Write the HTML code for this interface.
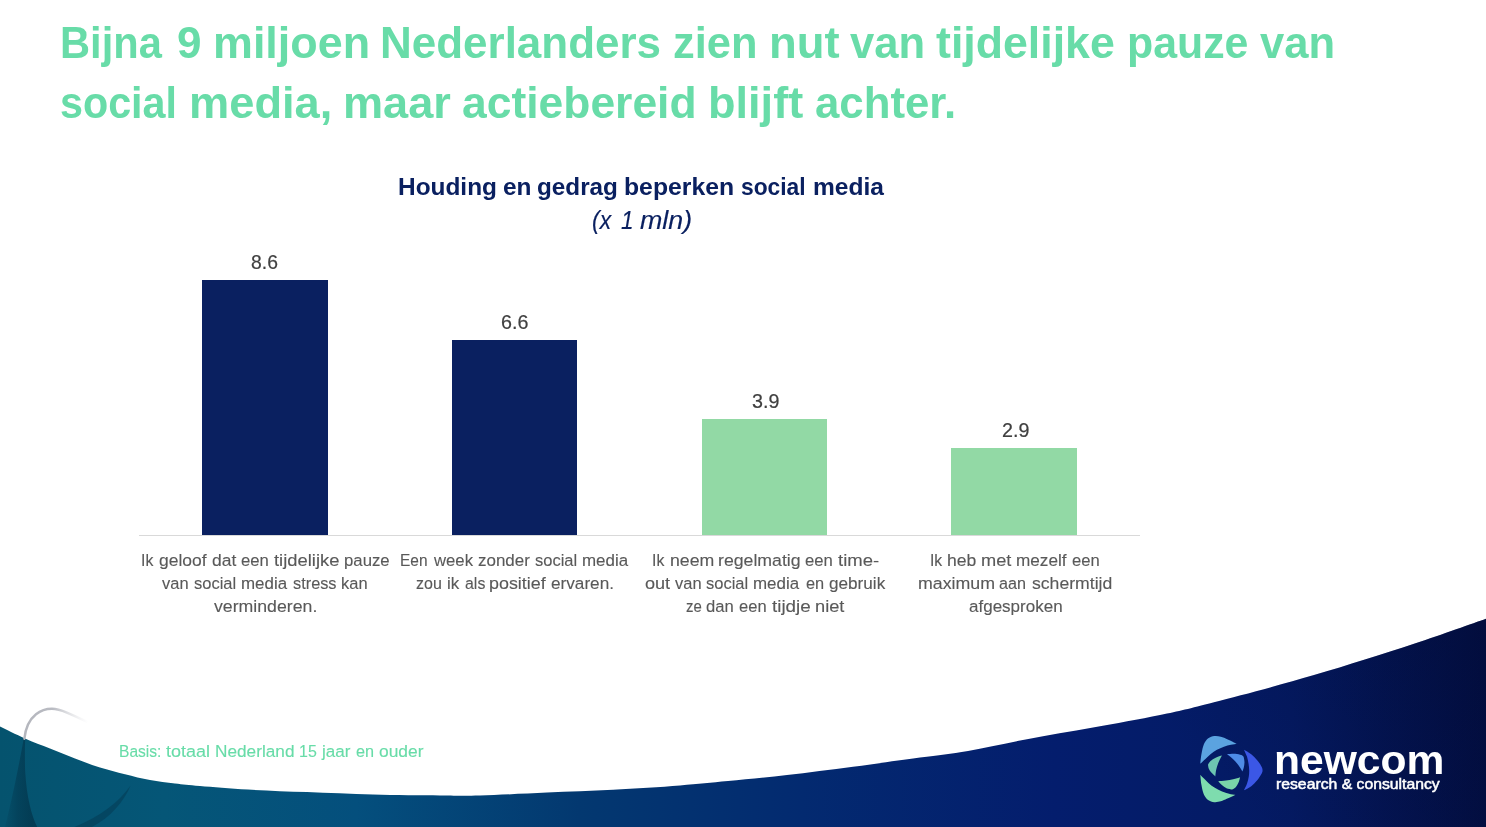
<!DOCTYPE html>
<html lang="nl">
<head>
<meta charset="utf-8">
<title>Houding en gedrag beperken social media</title>
<style>
html,body{margin:0;padding:0;background:#fff}
body{width:1486px;height:827px;position:relative;overflow:hidden;font-family:"Liberation Sans", sans-serif;}
.slide{position:absolute;left:0;top:0;width:1486px;height:827px;overflow:hidden;background:#fff}
.gfx{position:absolute;left:0;top:0;display:block}
h1,h2,p,ul,li,figure,figcaption,footer{margin:0;padding:0;font-weight:normal;font-size:0;list-style:none}
.ln{position:absolute;display:block;white-space:nowrap;line-height:1;transform-origin:0 0;}
.ln span{display:inline-block;transform-origin:0 0;}
.title .ln{font-weight:bold;color:#68dca8}
.ctitle .ln{font-weight:bold;color:#0a2060}
.csub .ln{font-style:italic;color:#0a2060;-webkit-text-stroke:0.15px #0a2060}
.val .ln{color:#404040;-webkit-text-stroke:0.2px #404040}
.cat .ln{color:#595959;-webkit-text-stroke:0.12px #595959}
.basis .ln{color:#68dca8;-webkit-text-stroke:0.12px #68dca8}
.logo .ln{color:#fff}
.logo .nm{font-weight:bold}
.logo .tg{-webkit-text-stroke:0.5px #fff}
</style>
</head>
<body>
<div class="slide">
<svg class="gfx" width="1486" height="827" viewBox="0 0 1486 827" aria-hidden="true">
<defs>
<linearGradient id="wg" x1="0" y1="0" x2="1486" y2="0" gradientUnits="userSpaceOnUse">
<stop offset="0" stop-color="#05536e"/>
<stop offset="0.11" stop-color="#055677"/>
<stop offset="0.24" stop-color="#044f7d"/>
<stop offset="0.39" stop-color="#033870"/>
<stop offset="0.54" stop-color="#032a70"/>
<stop offset="0.71" stop-color="#041d6d"/>
<stop offset="0.87" stop-color="#041a63"/>
<stop offset="1" stop-color="#030f45"/>
</linearGradient>
<linearGradient id="wd" x1="1250" y1="827" x2="1486" y2="640" gradientUnits="userSpaceOnUse">
<stop offset="0" stop-color="#010a30" stop-opacity="0"/>
<stop offset="1" stop-color="#010a30" stop-opacity="0.35"/>
</linearGradient>
<linearGradient id="sw" x1="24" y1="0" x2="88" y2="0" gradientUnits="userSpaceOnUse">
<stop offset="0" stop-color="#b4b6bd"/>
<stop offset="0.45" stop-color="#b9bbc2"/>
<stop offset="1" stop-color="#d8d9dd" stop-opacity="0"/>
</linearGradient>
<linearGradient id="sh1" x1="4" y1="0" x2="32" y2="0" gradientUnits="userSpaceOnUse">
<stop offset="0" stop-color="#03384f" stop-opacity="0.1"/>
<stop offset="0.5" stop-color="#03384f" stop-opacity="0.6"/>
<stop offset="1" stop-color="#03384f" stop-opacity="0.85"/>
</linearGradient>
</defs>
<path d="M-2 725.4C-1.7 725.6 -4.5 724.2 0 726.4C4.5 728.6 16.7 734.7 25 738.4C33.3 742.1 41.7 745.1 50 748.4C58.3 751.7 66.7 755.2 75 758.4C83.3 761.6 91.7 765.0 100 767.6C108.3 770.2 116.7 772.2 125 774.3C133.3 776.4 141.7 778.6 150 780.1C158.3 781.6 166.7 782.5 175 783.5C183.3 784.5 187.8 785.0 200 786C212.2 787.0 230.2 788.6 248 789.6C265.8 790.6 286.2 791.3 307 792.1C327.8 792.9 350.8 794.0 373 794.6C395.2 795.2 422.2 795.4 440 795.5C457.8 795.6 462.2 796.0 480 795.5C497.8 795.0 524.8 793.6 547 792.6C569.2 791.6 590.8 791.0 613 789.8C635.2 788.6 660.8 787.0 680 785.5C699.2 784.0 710.2 782.8 728 781.1C745.8 779.4 766.2 777.5 787 775.1C807.8 772.7 830.8 769.7 853 766.8C875.2 763.9 900.8 760.2 920 757.6C939.2 755.0 950.2 754.0 968 750.9C985.8 747.8 1006.2 743.1 1027 739.2C1047.8 735.3 1070.8 731.6 1093 727.6C1115.2 723.6 1139.8 719.2 1160 715C1180.2 710.8 1188.3 708.9 1214 702.2C1239.7 695.6 1280.7 684.8 1314 675.1C1347.3 665.4 1385.3 653.2 1414 643.8C1442.7 634.4 1473.7 623.1 1486 618.8C1498.3 614.5 1487.7 618.2 1488 618.1V828H-2Z" fill="url(#wg)"/>
<path d="M-2 725.4C-1.7 725.6 -4.5 724.2 0 726.4C4.5 728.6 16.7 734.7 25 738.4C33.3 742.1 41.7 745.1 50 748.4C58.3 751.7 66.7 755.2 75 758.4C83.3 761.6 91.7 765.0 100 767.6C108.3 770.2 116.7 772.2 125 774.3C133.3 776.4 141.7 778.6 150 780.1C158.3 781.6 166.7 782.5 175 783.5C183.3 784.5 187.8 785.0 200 786C212.2 787.0 230.2 788.6 248 789.6C265.8 790.6 286.2 791.3 307 792.1C327.8 792.9 350.8 794.0 373 794.6C395.2 795.2 422.2 795.4 440 795.5C457.8 795.6 462.2 796.0 480 795.5C497.8 795.0 524.8 793.6 547 792.6C569.2 791.6 590.8 791.0 613 789.8C635.2 788.6 660.8 787.0 680 785.5C699.2 784.0 710.2 782.8 728 781.1C745.8 779.4 766.2 777.5 787 775.1C807.8 772.7 830.8 769.7 853 766.8C875.2 763.9 900.8 760.2 920 757.6C939.2 755.0 950.2 754.0 968 750.9C985.8 747.8 1006.2 743.1 1027 739.2C1047.8 735.3 1070.8 731.6 1093 727.6C1115.2 723.6 1139.8 719.2 1160 715C1180.2 710.8 1188.3 708.9 1214 702.2C1239.7 695.6 1280.7 684.8 1314 675.1C1347.3 665.4 1385.3 653.2 1414 643.8C1442.7 634.4 1473.7 623.1 1486 618.8C1498.3 614.5 1487.7 618.2 1488 618.1V828H-2Z" fill="url(#wd)"/>
<path d="M23.6 739C20 760 12 800 4.7 828H37.7C31.5 816 26.7 797 25.2 772C24.7 760 24.8 748 25.2 739.6Z" fill="url(#sh1)"/>
<path d="M130.5 785.8C118 803 100 817 72 828H90C110 818 123 803 130.5 785.8Z" fill="#03384f" opacity="0.5"/>
<path d="M24.4 738.7C25.5 728 29.5 719.5 36 714.3C41 710.3 46.5 708.8 51.9 708.8C61 709 72 714.5 90 723.2" fill="none" stroke="url(#sw)" stroke-width="2.4" stroke-linecap="round"/>
<rect x="139" y="535" width="1001" height="1" fill="#d9d9d9"/>
<rect x="202" y="280" width="126" height="255" fill="#0a2060"/>
<rect x="452" y="340" width="125" height="195" fill="#0a2060"/>
<rect x="702" y="419" width="125" height="116" fill="#92d9a5"/>
<rect x="951" y="448" width="126" height="87" fill="#92d9a5"/>
<g transform="translate(1190 725)">
<path d="M10.28 38.75C10.48 37.08 10.89 32.05 11.51 28.78C12.13 25.51 12.85 21.69 13.98 19.12C15.11 16.55 16.58 14.70 18.29 13.36C20.01 12.02 22.17 11.37 24.25 11.10C26.34 10.83 28.67 11.20 30.83 11.72C32.99 12.23 35.23 13.34 37.20 14.18C39.17 15.02 41.04 15.93 42.65 16.75C44.26 17.57 46.16 18.72 46.87 19.12C45.87 19.24 43.06 19.41 40.90 19.84C38.75 20.26 36.25 20.86 33.92 21.69C31.59 22.51 29.12 23.57 26.93 24.77C24.73 25.97 22.68 27.36 20.76 28.88C18.84 30.40 17.16 32.27 15.42 33.92C13.67 35.56 11.13 37.94 10.28 38.75Z" fill="#5ba3e0"/>
<path d="M10.28 49.64C10.47 51.34 10.83 56.54 11.41 59.82C11.99 63.09 12.66 66.74 13.77 69.27C14.89 71.81 16.34 73.71 18.09 75.03C19.84 76.34 22.13 76.96 24.25 77.18C26.38 77.41 28.74 76.93 30.83 76.36C32.92 75.80 35.01 74.55 36.79 73.79C38.57 73.04 40.10 72.51 41.52 71.84C42.94 71.17 44.69 70.13 45.32 69.78C44.28 69.60 41.26 69.22 39.05 68.65C36.84 68.09 34.43 67.37 32.07 66.39C29.70 65.42 27.10 64.17 24.87 62.80C22.64 61.43 20.52 59.71 18.71 58.17C16.89 56.63 15.38 54.97 13.98 53.55C12.57 52.12 10.89 50.29 10.28 49.64Z" fill="#7edcae"/>
<path d="M53.96 24.67C55.17 25.42 59.01 27.39 61.25 29.19C63.50 30.99 65.72 33.42 67.42 35.46C69.12 37.50 70.57 39.79 71.43 41.42C72.29 43.05 72.56 43.95 72.56 45.22C72.56 46.49 72.29 47.40 71.43 49.02C70.57 50.65 69.12 52.95 67.42 54.98C65.72 57.02 63.50 59.52 61.25 61.25C59.01 62.98 55.17 64.68 53.96 65.36C54.47 64.23 56.24 60.91 57.04 58.58C57.85 56.25 58.43 53.61 58.79 51.39C59.15 49.16 59.23 47.28 59.20 45.22C59.16 43.17 58.94 41.28 58.58 39.05C58.22 36.83 57.81 34.26 57.04 31.86C56.27 29.46 54.47 25.87 53.96 24.67Z" fill="#3b57e6"/>
<path d="M17.99 39.67C18.41 39.05 19.27 37.14 20.55 35.97C21.84 34.81 23.79 33.59 25.69 32.68C27.60 31.77 30.92 30.88 31.96 30.52C31.35 31.77 29.22 35.66 28.26 38.03C27.30 40.39 26.70 42.48 26.21 44.71C25.71 46.93 25.44 50.27 25.28 51.39C24.58 50.70 22.15 48.56 21.07 47.28C19.99 45.99 19.32 44.95 18.81 43.68C18.29 42.41 18.12 40.34 17.99 39.67Z" fill="#6cc5b1"/>
<path d="M37.00 29.09C38.37 29.02 42.82 28.50 45.22 28.67C47.62 28.85 49.98 29.58 51.39 30.11C52.79 30.64 53.27 31.57 53.65 31.86C53.79 32.72 54.44 35.29 54.47 37.00C54.50 38.71 54.20 40.56 53.85 42.14C53.51 43.71 52.66 45.73 52.42 46.45C51.73 45.39 49.85 42.12 48.30 40.08C46.76 38.04 45.05 36.06 43.17 34.22C41.28 32.39 38.03 29.94 37.00 29.09Z" fill="#4e8ce6"/>
<path d="M28.26 56.32C29.55 56.20 33.49 55.94 35.97 55.60C38.45 55.26 40.80 54.83 43.17 54.27C45.53 53.70 48.99 52.55 50.15 52.21C49.85 53.19 49.04 56.41 48.30 58.07C47.57 59.73 46.76 61.10 45.73 62.18C44.71 63.26 42.74 64.15 42.14 64.54C41.20 64.32 38.20 63.94 36.49 63.21C34.77 62.47 33.23 61.27 31.86 60.12C30.49 58.98 28.86 56.95 28.26 56.32Z" fill="#7ad4a9"/>
</g>
</svg>
<h1 class="title"><span class="ln" style="left:59.52px;top:20px;font-size:45.0px"><span style="transform:scaleX(0.9252)">Bijna</span> <span style="margin-left:-4.85px;transform:scaleX(0.9783)">9</span> <span style="margin-left:-1.92px;transform:scaleX(0.9969)">miljoen</span> <span style="margin-left:-2.79px;transform:scaleX(0.9771)">Nederlanders</span> <span style="margin-left:-7.34px;transform:scaleX(0.9649)">zien</span> <span style="margin-left:-4.41px;transform:scaleX(1.0101)">nut</span> <span style="margin-left:-0.68px;transform:scaleX(0.9674)">van</span> <span style="margin-left:-4.32px;transform:scaleX(0.9928)">tijdelijke</span> <span style="margin-left:-1.53px;transform:scaleX(0.9521)">pauze</span> <span style="margin-left:-6.88px;transform:scaleX(0.9674)">van</span></span><span class="ln" style="left:59.88px;top:80px;font-size:45.0px"><span style="transform:scaleX(0.9172)">social</span> <span style="margin-left:-11.27px;transform:scaleX(1.0053)">media,</span> <span style="margin-left:-0.8px;transform:scaleX(1.0027)">maar</span> <span style="margin-left:-0.87px;transform:scaleX(0.9872)">actiebereid</span> <span style="margin-left:-4.34px;transform:scaleX(1.0022)">blijft</span> <span style="margin-left:-0.15px;transform:scaleX(0.9722)">achter.</span></span></h1>
<figure class="chart">
<h2 class="ctitle"><span class="ln" style="left:398.0px;top:175px;font-size:24.5px"><span style="transform:scaleX(0.9965)">Houding</span> <span style="margin-left:-1.09px;transform:scaleX(0.9963)">en</span> <span style="margin-left:-1.49px;transform:scaleX(0.9901)">gedrag</span> <span style="margin-left:-1.85px;transform:scaleX(1.0103)">beperken</span> <span style="margin-left:1.43px;transform:scaleX(0.9299)">social</span> <span style="margin-left:-4.4px;transform:scaleX(1.0017)">media</span></span></h2>
<p class="csub"><span class="ln" style="left:591.58px;top:208px;font-size:25.0px"><span style="transform:scaleX(0.9172)">(x</span> <span style="margin-left:1.62px;transform:scaleX(0.9013)">1</span> <span style="margin-left:-1.89px;transform:scaleX(1.0733)">mln)</span></span></p>
<ul class="val"><li><span class="ln" style="left:251.4px;top:253px;font-size:19.6px;transform:scaleX(0.9875)">8.6</span></li><li><span class="ln" style="left:500.89px;top:313px;font-size:19.6px;transform:scaleX(1.006)">6.6</span></li><li><span class="ln" style="left:751.9px;top:392px;font-size:19.6px;transform:scaleX(1.006)">3.9</span></li><li><span class="ln" style="left:1001.9px;top:421px;font-size:19.6px;transform:scaleX(1.006)">2.9</span></li></ul>
<ul class="cat">
<li><span class="ln" style="left:141.06px;top:553px;font-size:16.8px"><span style="transform:scaleX(0.9428)">Ik</span> <span style="margin-left:0.02px;transform:scaleX(1.0415)">geloof</span> <span style="margin-left:2.45px;transform:scaleX(1.0421)">dat</span> <span style="margin-left:1.62px;transform:scaleX(0.9946)">een</span> <span style="margin-left:0.12px;transform:scaleX(1.0955)">tijdelijke</span> <span style="margin-left:5.35px;transform:scaleX(0.9984)">pauze</span></span><span class="ln" style="left:162.0px;top:576px;font-size:16.8px"><span style="transform:scaleX(0.981)">van</span> <span style="margin-left:0.17px;transform:scaleX(0.9831)">social</span> <span style="margin-left:-0.9px;transform:scaleX(1.0078)">media</span> <span style="margin-left:2.1px;transform:scaleX(0.9724)">stress</span> <span style="margin-left:-1.78px;transform:scaleX(0.9829)">kan</span></span><span class="ln" style="left:213.9px;top:599px;font-size:16.8px;transform:scaleX(1.0548)">verminderen.</span></li>
<li><span class="ln" style="left:400.48px;top:553px;font-size:16.8px"><span style="transform:scaleX(0.9209)">Een</span> <span style="margin-left:-1.15px;transform:scaleX(0.9949)">week</span> <span style="margin-left:0.55px;transform:scaleX(1.0115)">zonder</span> <span style="margin-left:1.05px;transform:scaleX(0.9838)">social</span> <span style="margin-left:-0.87px;transform:scaleX(1.0086)">media</span></span><span class="ln" style="left:416.2px;top:576px;font-size:16.8px"><span style="transform:scaleX(0.9528)">zou</span> <span style="margin-left:-1.14px;transform:scaleX(1.012)">ik</span> <span style="margin-left:0.91px;transform:scaleX(0.9476)">als</span> <span style="margin-left:-1.74px;transform:scaleX(1.0662)">positief</span> <span style="margin-left:4.05px;transform:scaleX(1.0232)">ervaren.</span></span></li>
<li><span class="ln" style="left:652.46px;top:553px;font-size:16.8px"><span style="transform:scaleX(0.9414)">Ik</span> <span style="margin-left:-0.6px;transform:scaleX(1.0555)">neem</span> <span style="margin-left:1.75px;transform:scaleX(1.0549)">regelmatig</span> <span style="margin-left:3.97px;transform:scaleX(0.9932)">een</span> <span style="margin-left:0.07px;transform:scaleX(1.1027)">time-</span></span><span class="ln" style="left:644.6px;top:576px;font-size:16.8px"><span style="transform:scaleX(1.0779)">out</span> <span style="margin-left:1.96px;transform:scaleX(0.9816)">van</span> <span style="margin-left:0.19px;transform:scaleX(0.9836)">social</span> <span style="margin-left:-0.88px;transform:scaleX(1.0084)">media</span> <span style="margin-left:2.14px;transform:scaleX(0.9747)">en</span> <span style="margin-left:0.22px;transform:scaleX(1.0214)">gebruik</span></span><span class="ln" style="left:685.7px;top:599px;font-size:16.8px"><span style="transform:scaleX(0.8915)">ze</span> <span style="margin-left:-1.74px;transform:scaleX(0.9909)">dan</span> <span style="margin-left:0.43px;transform:scaleX(0.9845)">een</span> <span style="margin-left:-0.23px;transform:scaleX(1.1228)">tijdje</span> <span style="margin-left:3.74px;transform:scaleX(1.0869)">niet</span></span></li>
<li><span class="ln" style="left:930.16px;top:553px;font-size:16.8px"><span style="transform:scaleX(0.9376)">Ik</span> <span style="margin-left:-0.66px;transform:scaleX(1.046)">heb</span> <span style="margin-left:0.9px;transform:scaleX(1.0858)">met</span> <span style="margin-left:2.49px;transform:scaleX(1.0237)">mezelf</span> <span style="margin-left:1.69px;transform:scaleX(0.9892)">een</span></span><span class="ln" style="left:917.84px;top:576px;font-size:16.8px"><span style="transform:scaleX(1.0583)">maximum</span> <span style="margin-left:4.21px;transform:scaleX(0.9633)">aan</span> <span style="margin-left:-0.32px;transform:scaleX(1.0495)">schermtijd</span></span><span class="ln" style="left:968.6px;top:599px;font-size:16.8px;transform:scaleX(1.0138)">afgesproken</span></li>
</ul>
</figure>
<p class="basis"><span class="ln" style="left:118.87px;top:744px;font-size:16.8px"><span style="transform:scaleX(0.9288)">Basis:</span> <span style="margin-left:-3.06px;transform:scaleX(1.0717)">totaal</span> <span style="margin-left:2.65px;transform:scaleX(1.0268)">Nederland</span> <span style="margin-left:2.69px;transform:scaleX(0.9525)">15</span> <span style="margin-left:-0.51px;transform:scaleX(1.0173)">jaar</span> <span style="margin-left:0.91px;transform:scaleX(0.9677)">en</span> <span style="margin-left:0.05px;transform:scaleX(1.0372)">ouder</span></span></p>
<footer class="logo"><span class="ln nm" style="left:1273.5px;top:740px;font-size:40.5px;transform:scaleX(1.0517)">newcom</span><span class="ln tg" style="left:1275.9px;top:777px;font-size:14.8px;transform:scaleX(1.0641)">research &amp; consultancy</span></footer>
</div>
</body>
</html>
